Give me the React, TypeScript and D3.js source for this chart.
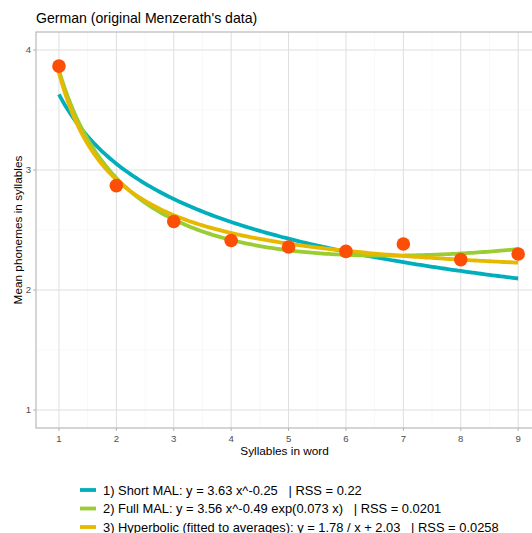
import React from "react";
import * as d3 from "d3";

const syllables = [1, 2, 3, 4, 5, 6, 7, 8, 9];
const meanPhonemes = [3.866, 2.87, 2.571, 2.413, 2.358, 2.322, 2.383, 2.253, 2.30];
const xTicks = [1, 2, 3, 4, 5, 6, 7, 8, 9];
const yTicks = [1, 2, 3, 4];

// fitted model parameters (from legend)
const shortMAL = { a: 3.63, b: -0.25 };
const fullMAL = { a: 3.56, b: -0.49, c: 0.073 };
const hyper = { a: 1.78, b: 2.03 };

const legendLabels = [
  "1) Short MAL: y = 3.63 x^-0.25   | RSS = 0.22",
  "2) Full MAL: y = 3.56 x^-0.49 exp(0.073 x)   | RSS = 0.0201",
  "3) Hyperbolic (fitted to averages): y = 1.78 / x + 2.03   | RSS = 0.0258",
];
const colors = ["#00AFBB", "#9ACD32", "#E7B800"];
const pointColor = "#FC4E07";

const W = 532, H = 533;
const panel = { left: 36, top: 32, bottom: 428 };

export default function App() {
  const x = d3.scaleLinear().domain([0.6, 9.4]).range([panel.left, panel.left + 8.8 * 57.4]);
  const y = d3.scaleLinear().domain([0.85, 4.15]).range([panel.bottom, panel.top]);
  const xs = d3.range(1, 9.0001, 0.05);
  const fns = [
    (v: number) => shortMAL.a * Math.pow(v, shortMAL.b),
    (v: number) => fullMAL.a * Math.pow(v, fullMAL.b) * Math.exp(fullMAL.c * v),
    (v: number) => hyper.a / v + hyper.b,
  ];
  const line = d3.line<[number, number]>().x((d) => x(d[0])).y((d) => y(d[1])).curve(d3.curveLinear);
  const right = x(9.4);
  const gridMinorX = d3.range(1.5, 9, 1);
  const gridMinorY = [1.5, 2.5, 3.5];
  const font = "'Liberation Sans', Arial, sans-serif";
  return (
    <svg width={W} height={H} style={{ position: "absolute", left: 0, top: 0, fontFamily: font }}>
      <rect width={W} height={H} fill="white" />
      <text x={36} y={23} fontSize={14.1} fill="#000">German (original Menzerath's data)</text>
      <defs>
        <clipPath id="pc">
          <rect x={panel.left} y={panel.top} width={right - panel.left} height={panel.bottom - panel.top} />
        </clipPath>
      </defs>
      <g>
        {gridMinorY.map((v) => (
          <line key={"ym" + v} x1={panel.left} x2={right} y1={y(v)} y2={y(v)} stroke="#f0f0f0" strokeWidth={0.5} />
        ))}
        {gridMinorX.map((v) => (
          <line key={"xm" + v} x1={x(v)} x2={x(v)} y1={panel.top} y2={panel.bottom} stroke="#f0f0f0" strokeWidth={0.5} />
        ))}
        {yTicks.map((v) => (
          <line key={"y" + v} x1={panel.left} x2={right} y1={y(v)} y2={y(v)} stroke="#dedede" strokeWidth={1} />
        ))}
        {xTicks.map((v) => (
          <line key={"x" + v} x1={x(v)} x2={x(v)} y1={panel.top} y2={panel.bottom} stroke="#dedede" strokeWidth={1} />
        ))}
      </g>
      <g clipPath="url(#pc)">
        {fns.map((f, i) => (
          <path key={i} d={line(xs.map((v) => [v, f(v)] as [number, number])) || ""} fill="none" stroke={colors[i]} strokeWidth={3.8} strokeLinecap="butt" />
        ))}
        {syllables.map((s, i) => (
          <circle key={s} cx={x(s)} cy={y(meanPhonemes[i])} r={6.8} fill={pointColor} />
        ))}
      </g>
      <rect x={panel.left} y={panel.top} width={right - panel.left} height={panel.bottom - panel.top} fill="none" stroke="#b3b3b3" strokeWidth={1.1} />
      {yTicks.map((v) => (
        <g key={"yt" + v}>
          <line x1={panel.left - 3} x2={panel.left} y1={y(v)} y2={y(v)} stroke="#b3b3b3" />
          <text x={panel.left - 5} y={y(v)} dy="0.35em" textAnchor="end" fontSize={9.6} fill="#4d4d4d">{v}</text>
        </g>
      ))}
      {xTicks.map((v) => (
        <g key={"xt" + v}>
          <line x1={x(v)} x2={x(v)} y1={panel.bottom} y2={panel.bottom + 3} stroke="#b3b3b3" />
          <text x={x(v)} y={panel.bottom + 13.5} textAnchor="middle" fontSize={9.6} fill="#4d4d4d">{v}</text>
        </g>
      ))}
      <text x={(panel.left + right) / 2 - 4} y={455} textAnchor="middle" fontSize={11.8} fill="#000">Syllables in word</text>
      <text transform={`translate(22,${(panel.top + panel.bottom) / 2}) rotate(-90)`} textAnchor="middle" fontSize={11.8} fill="#000">Mean phonemes in syllables</text>
      {legendLabels.map((l, i) => (
        <g key={l} transform={`translate(80,${490 + i * 18.5})`}>
          <line x1={0} x2={16} y1={0} y2={0} stroke={colors[i]} strokeWidth={3.8} />
          <text x={23} y={0} dy="0.35em" fontSize={12.9} fill="#000" style={{ whiteSpace: "pre" }}>{l}</text>
        </g>
      ))}
    </svg>
  );
}
